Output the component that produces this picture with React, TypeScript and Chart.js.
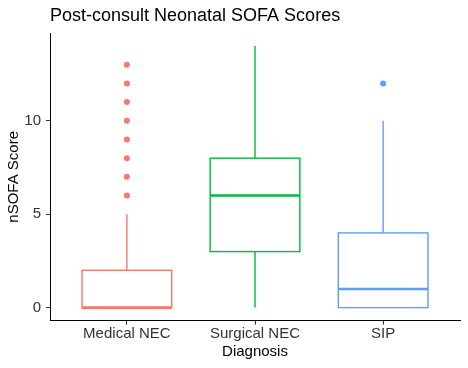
import React, { useEffect, useRef } from 'react';
import { Chart, registerables } from 'chart.js';

Chart.register(...registerables);

const categories = ['Medical NEC', 'Surgical NEC', 'SIP'];
const whiskerLow = [0, 0, 0];
const q1 = [0, 3, 0];
const median = [0, 6, 1];
const q3 = [2, 8, 4];
const whiskerHigh = [5, 14, 10];
const outliers = [[6, 7, 8, 9, 10, 11, 12, 13], [], [12]];
const colors = ['#F8766D', '#00BA38', '#619CFF'];
const yTicks = [0, 5, 10];

const titleText = 'Post-consult Neonatal SOFA Scores';
const xTitle = 'Diagnosis';
const yTitle = 'nSOFA Score';

const FONT = "'Liberation Sans', Arial, Helvetica, sans-serif";
const BOX_WIDTH = 0.7;

export default function App() {
  const ref = useRef<HTMLCanvasElement>(null);

  useEffect(() => {
    if (!ref.current) return;

    const boxPlugin = {
      id: 'boxes',
      beforeDatasetsDraw(chart: any) {
        const { ctx, scales } = chart;
        const x = scales.x;
        const y = scales.y;
        ctx.save();
        categories.forEach((_, i) => {
          const v = i + 1;
          const cx = x.getPixelForValue(v);
          const l = x.getPixelForValue(v - BOX_WIDTH / 2);
          const r = x.getPixelForValue(v + BOX_WIDTH / 2);
          const yq1 = y.getPixelForValue(q1[i]);
          const yq3 = y.getPixelForValue(q3[i]);
          const ymed = y.getPixelForValue(median[i]);
          const ylo = y.getPixelForValue(whiskerLow[i]);
          const yhi = y.getPixelForValue(whiskerHigh[i]);
          ctx.strokeStyle = colors[i];
          ctx.lineWidth = 1.4;
          ctx.beginPath();
          ctx.moveTo(cx, yq3);
          ctx.lineTo(cx, yhi);
          ctx.moveTo(cx, yq1);
          ctx.lineTo(cx, ylo);
          ctx.stroke();
          ctx.fillStyle = '#ffffff';
          ctx.fillRect(l, yq3, r - l, yq1 - yq3);
          ctx.strokeRect(l, yq3, r - l, yq1 - yq3);
          ctx.lineWidth = 2.6;
          ctx.beginPath();
          ctx.moveTo(l, ymed);
          ctx.lineTo(r, ymed);
          ctx.stroke();
        });
        ctx.restore();
      },
      afterDraw(chart: any) {
        const { ctx, chartArea } = chart;
        ctx.save();
        ctx.font = `18px ${FONT}`;
        ctx.fillStyle = '#000000';
        ctx.textAlign = 'left';
        ctx.textBaseline = 'alphabetic';
        ctx.fillText(titleText, chartArea.left, 21);
        ctx.restore();
      },
    };

    const datasets = categories.map((c, i) => ({
      label: c,
      data: outliers[i].map((val) => ({ x: i + 1, y: val })),
      backgroundColor: colors[i],
      borderColor: colors[i],
      pointRadius: 3,
      pointBorderWidth: 0,
      pointHoverRadius: 3,
    }));

    const chart = new Chart(ref.current, {
      type: 'scatter',
      data: { datasets },
      plugins: [boxPlugin],
      options: {
        animation: false,
        responsive: true,
        maintainAspectRatio: false,
        layout: { padding: { left: 0, top: 33, right: 8, bottom: 0 } },
        plugins: {
          legend: { display: false },
          tooltip: { enabled: false },
          title: { display: false },
        },
        scales: {
          x: {
            type: 'linear',
            min: 0.4,
            max: 3.6,
            afterBuildTicks(scale: any) {
              scale.ticks = categories.map((_, i) => ({ value: i + 1 }));
            },
            afterFit(scale: any) {
              scale.height = 47.3;
            },
            ticks: {
              autoSkip: false,
              maxRotation: 0,
              padding: 0,
              color: '#333333',
              font: { family: FONT, size: 15 },
              callback: (v: any) => categories[Number(v) - 1] ?? '',
            },
            grid: {
              display: true,
              drawOnChartArea: false,
              drawTicks: true,
              tickLength: 4,
              color: '#333333',
              lineWidth: 1,
            },
            border: { display: true, color: '#000000', width: 1 },
            title: {
              display: true,
              text: xTitle,
              color: '#000000',
              font: { family: FONT, size: 15 },
              padding: { top: 0, bottom: 7.5 },
            },
          },
          y: {
            type: 'linear',
            min: -0.7,
            max: 14.7,
            afterBuildTicks(scale: any) {
              scale.ticks = yTicks.map((v) => ({ value: v }));
            },
            afterFit(scale: any) {
              scale.width = 50;
            },
            ticks: {
              padding: 5,
              color: '#333333',
              font: { family: FONT, size: 15 },
            },
            grid: {
              display: true,
              drawOnChartArea: false,
              drawTicks: true,
              tickLength: 4,
              color: '#333333',
              lineWidth: 1,
            },
            border: { display: true, color: '#000000', width: 1 },
            title: {
              display: true,
              text: yTitle,
              color: '#000000',
              font: { family: FONT, size: 15 },
              padding: { top: 5, bottom: 0 },
            },
          },
        },
      },
    });

    return () => chart.destroy();
  }, []);

  return (
    <div style={{ position: 'fixed', left: 0, top: 0, width: 468, height: 368, background: '#ffffff' }}>
      <canvas ref={ref} />
    </div>
  );
}
